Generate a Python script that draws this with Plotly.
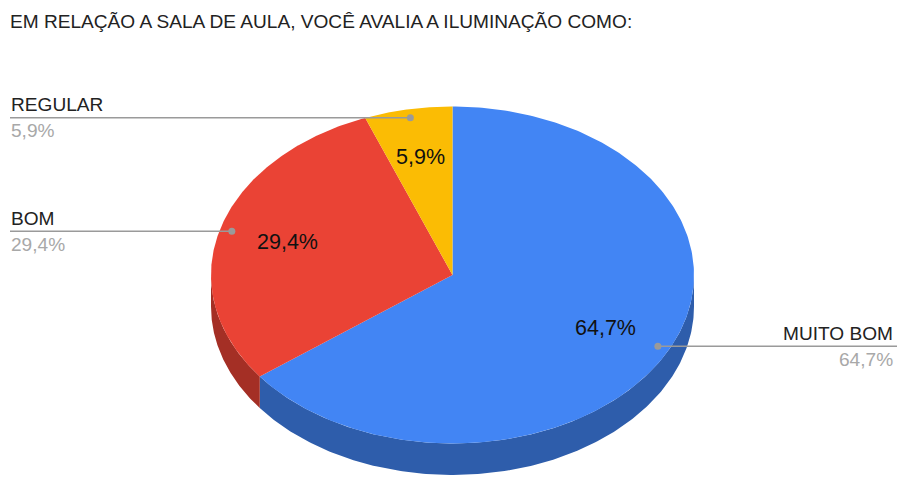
import numpy as np
import plotly.graph_objects as go

# ---- data ----
categories = ["MUITO BOM", "BOM", "REGULAR"]
values = [11, 5, 1]
colors = ["#4285F4", "#EA4335", "#FBBC04"]
side_colors = ["#2E5DAB", "#A42F25", "#B08403"]
title_text = "EM RELAÇÃO A SALA DE AULA, VOCÊ AVALIA A ILUMINAÇÃO COMO:"

# ---- geometry of the drawing (pixel space of the 897x477 window) ----
W, H = 897, 477
CX, CY, RX, RY, DEPTH = 452.5, 275.0, 241.5, 168.5, 31.5
FONT = "Arial, 'Liberation Sans', sans-serif"

total = sum(values)
fracs = [v / total for v in values]
pct_labels = [f"{f*100:.1f}".replace(".", ",") + "%" for f in fracs]


def pt(t_deg, r=1.0, dz=0.0):
    th = np.radians(90.0 - np.asarray(t_deg))
    return CX + RX * r * np.cos(th), CY - RY * r * np.sin(th) + dz


fig = go.Figure()

bounds = []
acc = 0.0
for f in fracs:
    bounds.append((acc * 360, (acc + f) * 360))
    acc += f

# side walls (front half only)
for (t0, t1), sc in zip(bounds, side_colors):
    s0, s1 = max(t0, 90.0), min(t1, 270.0)
    if s0 >= s1:
        continue
    ts = np.linspace(s0, s1, 200)
    xt, yt = pt(ts)
    xb, yb = pt(ts[::-1], dz=DEPTH)
    fig.add_trace(go.Scatter(
        x=np.concatenate([xt, xb, xt[:1]]), y=np.concatenate([yt, yb, yt[:1]]),
        mode="lines", fill="toself", fillcolor=sc, line=dict(width=0, color=sc),
        hoverinfo="skip", showlegend=False))

# top faces
for (t0, t1), c in zip(bounds, colors):
    ts = np.linspace(t0, t1, 300)
    xa, ya = pt(ts)
    fig.add_trace(go.Scatter(
        x=np.concatenate([[CX], xa, [CX]]), y=np.concatenate([[CY], ya, [CY]]),
        mode="lines", fill="toself", fillcolor=c, line=dict(width=0, color=c),
        hoverinfo="skip", showlegend=False))

annotations = []
for (t0, t1), lab in zip(bounds, pct_labels):
    mx, my = pt((t0 + t1) / 2, r=0.71)
    annotations.append(dict(x=float(mx), y=float(my), xref="x", yref="y", text=lab,
                            showarrow=False, font=dict(family=FONT, size=21.5, color="#111111"),
                            xanchor="center", yanchor="middle"))

for (t0, t1), name, lab in zip(bounds, categories, pct_labels):
    tm = (t0 + t1) / 2
    dx, dy = pt(tm, r=0.95)
    right = np.cos(np.radians(90 - tm)) > 0
    xe = W if right else 10
    fig.add_trace(go.Scatter(x=[float(dx), xe], y=[float(dy), float(dy)], mode="lines",
                             line=dict(color="#9a9a9a", width=1.5),
                             hoverinfo="skip", showlegend=False))
    fig.add_trace(go.Scatter(x=[float(dx)], y=[float(dy)], mode="markers",
                             marker=dict(color="#9a9a9a", size=7),
                             hoverinfo="skip", showlegend=False))
    tx = 895 if right else 9
    anc = "right" if right else "left"
    annotations.append(dict(x=tx, y=float(dy) - 13, xref="x", yref="y", text=name,
                            showarrow=False, font=dict(family=FONT, size=19.1, color="#222222"),
                            xanchor=anc, yanchor="middle"))
    annotations.append(dict(x=tx, y=float(dy) + 13, xref="x", yref="y", text=lab,
                            showarrow=False, font=dict(family=FONT, size=19.1, color="#a8a8a8"),
                            xanchor=anc, yanchor="middle"))

annotations.append(dict(x=8, y=21.5, xref="x", yref="y", text=title_text, showarrow=False,
                        font=dict(family=FONT, size=19.1, color="#222222"),
                        xanchor="left", yanchor="middle"))

fig.update_layout(
    width=W, height=H, margin=dict(l=0, r=0, t=0, b=0),
    paper_bgcolor="white", plot_bgcolor="white",
    xaxis=dict(range=[0, W], visible=False, fixedrange=True),
    yaxis=dict(range=[H, 0], visible=False, fixedrange=True),
    annotations=annotations, showlegend=False,
)

fig.write_html("out.html", config={"displayModeBar": False},
               post_script="document.body.style.margin='0';document.body.style.overflow='hidden';")
